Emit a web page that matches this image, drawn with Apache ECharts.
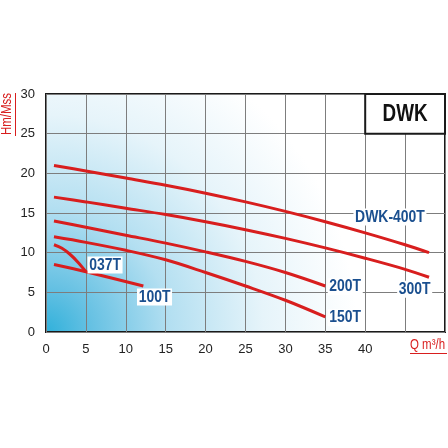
<!DOCTYPE html>
<html>
<head>
<meta charset="utf-8">
<script src="https://cdn.jsdelivr.net/npm/echarts@6/dist/echarts.min.js"></script>
<style>
  html, body { margin: 0; padding: 0; background: #fff; }
  #chart { width: 448px; height: 448px; }
</style>
</head>
<body>
<div id="chart"></div>
<script>
// pump curves, Q (m3/h) vs H (m)
const curve037T = [[1, 11], [2, 10.55], [3, 9.8], [4, 8.8], [5, 7.6]];
const curve100T = [[1, 8.5], [5, 7.6], [12.2, 5.8]];
const curve150T = [[1, 12], [5, 11.3], [10, 10.3], [15, 9.1], [20, 7.5], [25, 5.8], [30, 4.0], [35, 1.9]];
const curve200T = [[1, 14], [5, 13.2], [10, 12.2], [15, 11.2], [20, 10.1], [25, 8.9], [30, 7.5], [35, 5.8]];
const curve300T = [[1, 17], [5, 16.4], [10, 15.6], [15, 14.8], [20, 13.9], [25, 12.9], [30, 11.8], [35, 10.6], [40, 9.3], [45, 7.9], [48, 6.9]];
const curve400T = [[1, 21], [5, 20.3], [10, 19.4], [15, 18.5], [20, 17.5], [25, 16.4], [30, 15.2], [35, 13.9], [40, 12.5], [45, 11], [48, 10]];

const curveNames = ["037T", "100T", "150T", "200T", "300T", "DWK-400T"];
const curveData = [curve037T, curve100T, curve150T, curve200T, curve300T, curve400T];
// where each model name sits (Q, H)
const labelAt = [[7.4, 8.45], [13.6, 4.4], [37.5, 1.8], [37.5, 5.7], [46.2, 5.4], [43.1, 14.5]];

const xTicks = ["0", "5", "10", "15", "20", "25", "30", "35", "40", "", ""];
const boxTitle = "DWK";
const boxCorners = [[40, 30], [50, 25]];

const RED = "#d81e1e";
const BLUE = "#1a4f8f";
const FONT = "'Liberation Sans', Arial, sans-serif";
const SQUEEZE = 0.82; // the original uses a narrow face

const chart = echarts.init(document.getElementById("chart"));

let series = curveData.map(function (d, i) {
  return {
    name: curveNames[i],
    type: "line",
    data: d,
    showSymbol: false,
    smooth: 0.35,
    lineStyle: { color: RED, width: 3 },
    z: 3,
  };
});

// white box in the top right corner
series[0].markArea = {
  silent: true,
  itemStyle: { color: "#fff", borderColor: "#1a1a1a", borderWidth: 2 },
  data: [[{ coord: boxCorners[0] }, { coord: boxCorners[1] }]],
};

chart.setOption({
  animation: false,
  backgroundColor: "#fff",
  grid: {
    left: 46, top: 94, right: 2, bottom: 116,
    show: true,
    borderColor: "#1a1a1a",
    borderWidth: 2,
    backgroundColor: {
      type: "radial", x: 0, y: 1, r: 1.3,
      colorStops: [
        { offset: 0, color: "#2fb0da" },
        { offset: 0.15, color: "#66c1e3" },
        { offset: 0.4, color: "#b3dff1" },
        { offset: 0.7, color: "#e6f4fa" },
        { offset: 1, color: "#ffffff" },
      ],
    },
  },
  xAxis: {
    type: "value",
    min: 0, max: 50, interval: 5,
    axisLine: { show: false },
    axisTick: { show: false },
    splitLine: { lineStyle: { color: "#7d7d7d", width: 1 } },
    axisLabel: {
      margin: 11,
      color: "#222",
      fontFamily: FONT,
      fontSize: 13,
      formatter: function (v) { return xTicks[Math.round(v / 5)]; },
    },
  },
  yAxis: {
    type: "value",
    min: 0, max: 30, interval: 5,
    axisLine: { show: false },
    axisTick: { show: false },
    splitLine: { lineStyle: { color: "#7d7d7d", width: 1 } },
    axisLabel: { margin: 11, color: "#222", fontFamily: FONT, fontSize: 13 },
  },
  series: series,
});

// texts placed through the grid's scales, squeezed to look narrow
let graphics = curveNames.map(function (n, i) {
  const p = chart.convertToPixel({ gridIndex: 0 }, labelAt[i]);
  return {
    type: "text", x: p[0], y: p[1], scaleX: SQUEEZE, z: 10,
    style: {
      text: n, fill: BLUE, font: "bold 17px " + FONT,
      align: "center", verticalAlign: "middle",
      backgroundColor: "#fff", padding: [0, 2],
    },
  };
});

const c0 = chart.convertToPixel({ gridIndex: 0 }, boxCorners[0]);
const c1 = chart.convertToPixel({ gridIndex: 0 }, boxCorners[1]);
graphics.push({
  type: "text", x: (c0[0] + c1[0]) / 2, y: (c0[1] + c1[1]) / 2 + 1, scaleX: SQUEEZE, z: 10,
  style: { text: boxTitle, fill: "#111", font: "bold 23px " + FONT, align: "center", verticalAlign: "middle" },
});

graphics.push(
  {
    type: "text", x: 14, y: 114, rotation: Math.PI / 2, scaleX: SQUEEZE,
    style: { text: "Hm/Mss", fill: RED, font: "14px " + FONT, align: "center", verticalAlign: "bottom" },
  },
  { type: "line", shape: { x1: 15.5, y1: 93, x2: 15.5, y2: 136 }, style: { stroke: RED, lineWidth: 1 } },
  {
    type: "text", x: 410, y: 352, scaleX: SQUEEZE,
    style: { text: "Q m³/h", fill: RED, font: "14px " + FONT, align: "left", verticalAlign: "bottom" },
  },
  { type: "line", shape: { x1: 410, y1: 353.5, x2: 447, y2: 353.5 }, style: { stroke: RED, lineWidth: 1 } }
);

chart.setOption({ graphic: graphics });
</script>
</body>
</html>
